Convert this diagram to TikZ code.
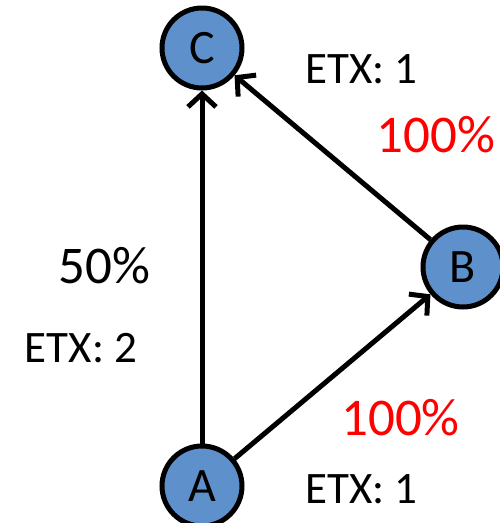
\documentclass[tikz,border=0pt]{standalone}
\usepackage{fontspec}
\setmainfont{Carlito}
\usetikzlibrary{arrows.meta}
\definecolor{nodeblue}{RGB}{94,145,204}
\begin{document}
\begin{tikzpicture}[x=1pt,y=-1pt,
  vertex/.style={circle, draw=black, line width=5pt, fill=nodeblue, minimum size=80pt, inner sep=0pt, font=\fontsize{48}{48}\selectfont},
  link/.style={line width=5pt, -{Straight Barb[length=13pt,width=28pt]}},
  etx/.style={anchor=base, font=\fontsize{45}{45}\selectfont},
  pct/.style={anchor=base, font=\fontsize{53}{53}\selectfont}]
\useasboundingbox (0,0) rectangle (500,523);
\node[vertex] (C) at (202,48) {C};
\node[vertex] (B) at (463,267) {B};
\node[vertex] (A) at (202,486) {A};
\draw[link] (A) -- (C);
\draw[link] (A) -- (B);
\draw[link] (B) -- (C);
\node[etx] (e1) at (361.5,83) {ETX: 1};
\node[pct, text=red] (p1) at (436,152) {100\%};
\node[pct] (p2) at (104.5,283) {50\%};
\node[etx] (e2) at (81,362) {ETX: 2};
\node[pct, text=red] (p3) at (400.5,435) {100\%};
\node[etx] (e3) at (361.5,503) {ETX: 1};
\end{tikzpicture}
\end{document}
